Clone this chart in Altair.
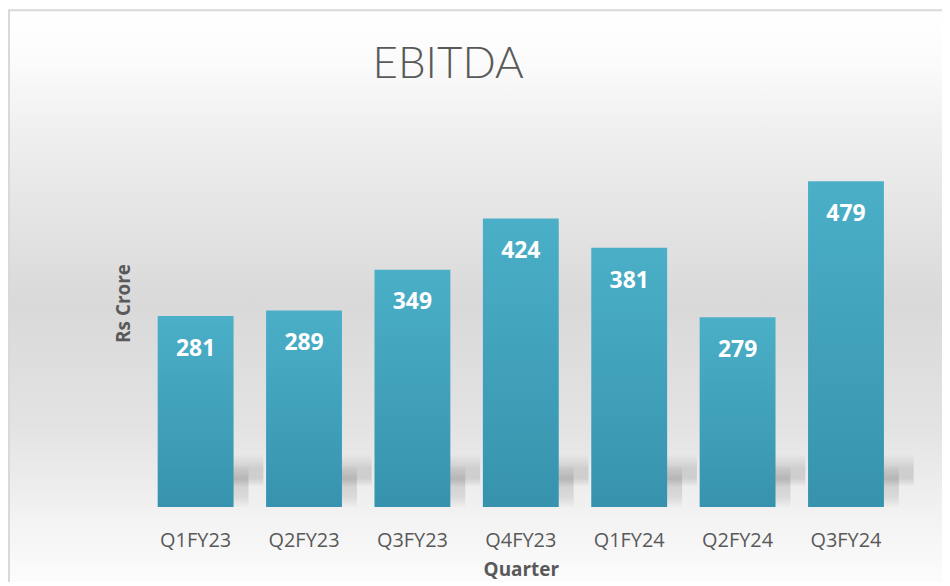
import altair as alt
import pandas as pd

quarters = ["Q1FY23", "Q2FY23", "Q3FY23", "Q4FY23", "Q1FY24", "Q2FY24", "Q3FY24"]
ebitda = [281, 289, 349, 424, 381, 279, 479]
chart_title = "EBITDA"

df = pd.DataFrame({"Quarter": quarters, "EBITDA": ebitda})

W, H = 762, 410
TXT = "#595959"

x_enc = alt.X("Quarter:N", sort=quarters,
              scale=alt.Scale(paddingInner=0.3, paddingOuter=0.15),
              axis=alt.Axis(title="Quarter", labelAngle=0, ticks=False, domain=False,
                            labelPadding=24, labelFontSize=20, labelColor=TXT,
                            labelFont="Open Sans", titleFont="Open Sans",
                            titleFontSize=19, titleFontWeight="bold", titleColor=TXT,
                            titlePadding=10, zindex=2))
y_scale = alt.Scale(domain=[0, 600], nice=False)
y_axis = alt.Axis(title="Rs Crore", labels=False, ticks=False, domain=False,
                  grid=False, titleFont="Open Sans", titleFontSize=19,
                  titleFontWeight="bold", titleColor=TXT, titlePadding=8, zindex=2)

bg_grad = {"gradient": "linear", "x1": 0, "y1": 0, "x2": 0, "y2": 1,
           "stops": [{"offset": 0, "color": "#ffffff"},
                     {"offset": 0.09, "color": "#fbfbfb"},
                     {"offset": 0.21, "color": "#efefef"},
                     {"offset": 0.5, "color": "#d9d9d9"},
                     {"offset": 0.71, "color": "#e3e3e3"},
                     {"offset": 0.87, "color": "#f3f3f3"},
                     {"offset": 1, "color": "#fefefe"}]}

bar_grad = {"gradient": "linear", "x1": 0, "y1": 0, "x2": 0, "y2": 1,
            "stops": [{"offset": 0, "color": "#4bafc8"},
                      {"offset": 1, "color": "#3793ad"}]}

shadow_far = {"gradient": "linear", "x1": 0, "y1": 0, "x2": 0, "y2": 1,
              "stops": [{"offset": 0, "color": "rgba(0,0,0,0)"},
                        {"offset": 0.45, "color": "rgba(0,0,0,0.12)"},
                        {"offset": 0.75, "color": "rgba(0,0,0,0.12)"},
                        {"offset": 1, "color": "rgba(0,0,0,0)"}]}
shadow_near = {"gradient": "linear", "x1": 0, "y1": 0, "x2": 0, "y2": 1,
               "stops": [{"offset": 0, "color": "rgba(0,0,0,0)"},
                         {"offset": 0.35, "color": "rgba(0,0,0,0.13)"},
                         {"offset": 0.75, "color": "rgba(0,0,0,0.09)"},
                         {"offset": 1, "color": "rgba(0,0,0,0.01)"}]}

base = alt.Chart(df)
first = base.transform_filter(alt.datum.Quarter == quarters[0])

frame = first.mark_rect(fill=bg_grad, stroke="#d9d9d9", strokeWidth=2).encode(
    x=alt.value(-133), x2=alt.value(830), y=alt.value(-89), y2=alt.value(500)
)

title = first.mark_text(text=chart_title, font="Lato", fontSize=44, fontWeight=300,
                        color=TXT, align="center", baseline="alphabetic").encode(
    x=alt.value(308), y=alt.value(-21)
)

shadow1 = base.mark_bar(fill=shadow_far, xOffset=30, width=76).encode(
    x=x_enc,
    y=alt.Y(datum=78, scale=y_scale, axis=y_axis),
    y2=alt.Y2(datum=30),
)
shadow2 = base.mark_bar(fill=shadow_near, xOffset=15).encode(
    x=x_enc,
    y=alt.Y(datum=62, scale=y_scale, axis=y_axis),
    y2=alt.Y2(datum=0),
)

bars = base.mark_bar(fill=bar_grad).encode(
    x=x_enc,
    y=alt.Y("EBITDA:Q", scale=y_scale, axis=y_axis),
)

labels = base.mark_text(color="white", font="Open Sans", fontSize=23,
                        fontWeight="bold", baseline="alphabetic", dy=40).encode(
    x=x_enc,
    y=alt.Y("EBITDA:Q", scale=y_scale, axis=y_axis),
    text="EBITDA:Q",
)

chart = alt.layer(frame, title, shadow1, shadow2, bars, labels).properties(
    width=W, height=H,
    autosize=alt.AutoSizeParams(type="none"),
    padding={"left": 134, "top": 90, "right": 42, "bottom": 74},
).configure_view(stroke=None).configure(background="white")

chart.save("out.html", embed_options={"renderer": "svg", "actions": False})
